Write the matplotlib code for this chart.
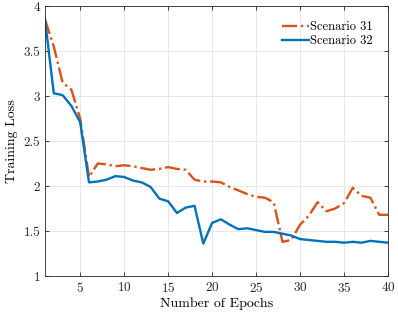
import matplotlib
matplotlib.use("Agg")
import matplotlib.pyplot as plt
import numpy as np

epochs = list(range(1, 41))
scenario31 = [3.85, 3.55, 3.15, 3.07, 2.75, 2.10, 2.25, 2.24, 2.22, 2.23,
              2.22, 2.20, 2.18, 2.19, 2.21, 2.19, 2.18, 2.07, 2.05, 2.05,
              2.04, 1.99, 1.95, 1.91, 1.88, 1.87, 1.82, 1.38, 1.40, 1.57,
              1.67, 1.82, 1.72, 1.75, 1.81, 1.98, 1.89, 1.87, 1.68, 1.68]
scenario32 = [3.85, 3.03, 3.01, 2.89, 2.71, 2.04, 2.05, 2.07, 2.11, 2.10,
              2.06, 2.04, 1.99, 1.86, 1.83, 1.70, 1.76, 1.78, 1.36, 1.59,
              1.63, 1.57, 1.52, 1.53, 1.51, 1.49, 1.49, 1.47, 1.45, 1.41,
              1.40, 1.39, 1.38, 1.38, 1.37, 1.38, 1.37, 1.39, 1.38, 1.37]
series_labels = ["Scenario 31", "Scenario 32"]
xticks = [5, 10, 15, 20, 25, 30, 35, 40]
yticks = [1, 1.5, 2, 2.5, 3, 3.5, 4]

plt.rcParams['font.family'] = ['cmr10', 'DejaVu Serif']
plt.rcParams['axes.formatter.use_mathtext'] = True
plt.rcParams['mathtext.fontset'] = 'cm'

fig = plt.figure(figsize=(3.98, 3.14), dpi=100)
ax = fig.add_axes([45/398, 1 - 276/314, (388-45)/398, (276-6)/314])

ax.plot(epochs, scenario31, color='#D95319', linestyle='-.', linewidth=1.7, label=series_labels[0])
ax.plot(epochs, scenario32, color='#0072BD', linestyle='-', linewidth=1.7, label=series_labels[1])

ax.set_xlim(1, 40)
ax.set_ylim(1, 4)
ax.set_xticks(xticks)
ax.set_yticks(yticks)
ax.set_yticklabels(['1', '1.5', '2', '2.5', '3', '3.5', '4'])
ax.grid(True, color='#e3e3e3', linewidth=0.6)
ax.set_axisbelow(True)
ax.tick_params(direction='in', top=True, right=True, labelsize=9.5, length=3, width=0.6, colors='#262626')
for s in ax.spines.values():
    s.set_linewidth(0.6)
    s.set_color('#262626')
ax.set_xlabel('Number of Epochs', fontsize=10, labelpad=2)
ax.set_ylabel('Training Loss', fontsize=10, labelpad=4)
leg = ax.legend(loc='upper right', frameon=False, fontsize=9, handlelength=2.2,
                handletextpad=0.1, borderaxespad=0.8, labelspacing=0.15)

fig.savefig('out.png', dpi=100)
